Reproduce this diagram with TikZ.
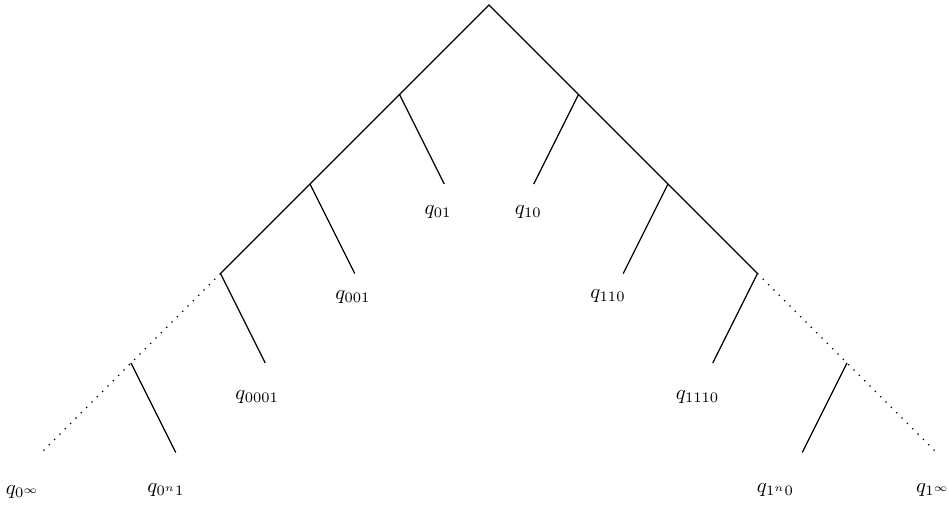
\documentclass[tikz,border=0pt]{standalone}
\usepackage{tikz}
\usepackage{graphicx}
\usetikzlibrary{calc}
\newcommand{\qlab}[1]{\scalebox{0.66}{$q_{#1}$}}
\tikzset{
  trunk/.style={draw=black},
  tail/.style={draw=black,dotted},
  twig/.style={draw=black},
  leaf/.style={inner sep=1pt},
}
\begin{document}
\begin{tikzpicture}
  \useasboundingbox (-5.464,0.056) rectangle (5.140,-5.665);
  \coordinate (top) at (0,0);
  \foreach \i in {1,...,5} {
    \coordinate (L\i) at (-\i,-\i);
    \coordinate (R\i) at (\i,-\i);
  }
  \foreach \i in {1,...,4} {
    \coordinate (lt\i) at ($(L\i)+(0.5,-1)$);
    \coordinate (rt\i) at ($(R\i)+(-0.5,-1)$);
  }
  % spine
  \draw[trunk] (L3) -- (top) -- (R3);
  \draw[tail] (L3) -- (L5);
  \draw[tail] (R3) -- (R5);
  % branches
  \foreach \i in {1,...,4} {
    \draw[twig] (L\i) -- (lt\i);
    \draw[twig] (R\i) -- (rt\i);
  }
  % labels
  \foreach \n/\x/\y/\t in {ql1/-0.57/-2.31/01, ql2/-1.52/-3.26/001, ql3/-2.59/-4.38/0001, ql4/-3.61/-5.42/0^n1,
      qr1/0.44/-2.31/10, qr2/1.33/-3.25/110, qr3/2.33/-4.38/1110, qr4/3.20/-5.42/1^n0}
    \node[leaf] (\n) at (\x,\y) {\qlab{\t}};
  \node[leaf] (qinf0) at (-5.21,-5.44) {\qlab{0^\infty}};
  \node[leaf] (qinf1) at (4.96,-5.42) {\qlab{1^\infty}};
\end{tikzpicture}
\end{document}
